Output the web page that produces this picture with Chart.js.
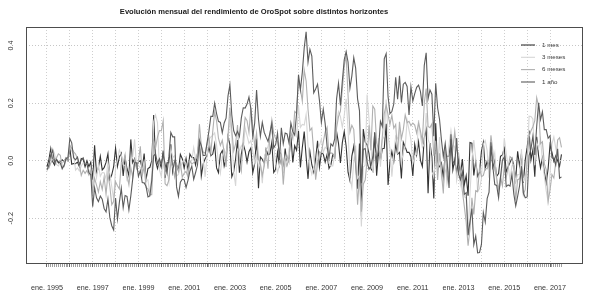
<!DOCTYPE html>
<html>
<head>
<meta charset="utf-8">
<script src="https://cdn.jsdelivr.net/npm/chart.js@4.4.0/dist/chart.umd.min.js"></script>
<style>
  html, body { margin: 0; padding: 0; background: #fff; }
  #wrap { position: relative; width: 589px; height: 297px; }
</style>
</head>
<body>
<div id="wrap"><canvas id="grafico"></canvas></div>
<script>
const titulo = "Evolución mensual del rendimiento de OroSpot sobre distintos horizontes";

// etiquetas del eje x: una cada 24 meses desde ene. 1995
const etiquetasX = ["ene. 1995", "ene. 1997", "ene. 1999", "ene. 2001", "ene. 2003", "ene. 2005",
  "ene. 2007", "ene. 2009", "ene. 2011", "ene. 2013", "ene. 2015", "ene. 2017"];
const ticksY = [-0.2, 0.0, 0.2, 0.4];
const etiquetasY = ["-0.2", "0.0", "0.2", "0.4"];
const nombres = ["1 mes", "3 meses", "6 meses", "1 año"];

// rendimientos mensuales, ene. 1995 - jul. 2017
const rend1m = [
  -0.021, 0.003, 0.042, -0.003, -0.015, 0.005, -0.008, -0.003, 0.003, -0.003, 0.010, 0.000,
  0.045, -0.012, -0.010, -0.010, -0.005, -0.021, 0.008, 0.005, -0.021, 0.000, -0.021, -0.005,
  -0.067, 0.054, -0.045, -0.023, 0.015, -0.032, -0.024, -0.006, 0.024, -0.065, -0.049, -0.021,
  0.044, -0.020, 0.013, 0.026, -0.053, 0.010, -0.027, -0.053, 0.074, -0.007, 0.007, -0.021,
  -0.004, 0.000, -0.028, 0.025, -0.065, -0.027, -0.023, 0.000, 0.159, 0.000, -0.027, -0.003,
  -0.024, 0.035, -0.060, -0.007, -0.007, 0.057, -0.039, 0.000, -0.015, -0.034, 0.022, 0.007,
  -0.026, 0.008, -0.034, 0.023, 0.011, 0.011, -0.015, 0.026, 0.071, -0.053, -0.011, 0.007,
  0.018, 0.049, 0.017, 0.023, 0.057, -0.025, -0.042, 0.023, 0.035, -0.019, 0.006, 0.084,
  0.056, -0.056, -0.038, 0.006, 0.072, -0.042, 0.023, 0.058, 0.034, -0.005, 0.031, 0.044,
  -0.042, -0.010, 0.078, -0.096, 0.013, 0.005, -0.010, 0.040, 0.020, 0.024, 0.064, -0.041,
  -0.030, 0.030, -0.016, 0.016, -0.042, 0.042, -0.014, 0.009, 0.088, -0.006, 0.052, 0.036,
  0.104, -0.023, 0.046, 0.101, 0.014, -0.063, 0.031, -0.014, -0.039, 0.007, 0.069, -0.022,
  0.028, 0.023, -0.005, 0.022, -0.027, -0.014, 0.023, 0.011, 0.100, 0.060, -0.008, 0.063,
  0.101, 0.051, -0.040, -0.069, 0.016, 0.050, -0.013, -0.097, 0.060, -0.191, 0.110, 0.065,
  0.055, 0.025, -0.028, -0.037, 0.099, -0.052, 0.031, 0.000, 0.042, 0.043, 0.128, -0.084,
  -0.004, 0.032, -0.003, 0.057, 0.023, 0.029, -0.062, 0.064, 0.048, 0.029, 0.029, 0.014,
  -0.053, 0.057, 0.020, 0.065, 0.001, -0.020, 0.079, 0.108, -0.113, 0.061, 0.014, -0.131,
  0.130, -0.028, -0.020, -0.007, -0.058, 0.025, 0.015, 0.016, 0.075, -0.032, 0.004, -0.041,
  0.004, -0.047, 0.006, -0.084, -0.052, -0.122, 0.063, 0.061, -0.051, -0.002, -0.055, -0.040,
  0.033, 0.064, -0.027, -0.002, -0.030, 0.051, -0.023, 0.000, -0.054, -0.045, 0.015, 0.020,
  0.044, -0.039, -0.021, -0.006, 0.009, -0.017, -0.064, 0.033, -0.018, 0.024, -0.077, 0.003,
  0.047, 0.105, 0.003, 0.038, -0.056, 0.083, 0.017, -0.025, 0.010, -0.039, -0.077, -0.028,
  0.056, 0.029, -0.002, 0.017, 0.000, -0.019, 0.022
];
const rend3m = [
  -0.037, -0.021, 0.023, 0.042, 0.024, -0.013, -0.018, -0.005, -0.008, -0.003, 0.010, 0.008,
  0.056, 0.033, 0.023, -0.033, -0.025, -0.036, -0.018, -0.008, -0.008, -0.016, -0.042, -0.027,
  -0.094, -0.019, -0.059, -0.015, -0.054, -0.041, -0.042, -0.063, -0.006, -0.047, -0.090, -0.135,
  -0.026, 0.003, 0.037, 0.020, -0.014, -0.017, -0.070, -0.071, -0.007, 0.014, 0.074, -0.021,
  -0.017, -0.024, -0.032, -0.004, -0.068, -0.067, -0.115, -0.050, 0.136, 0.159, 0.132, -0.031,
  -0.055, 0.007, -0.049, -0.032, -0.074, 0.043, 0.011, 0.018, -0.053, -0.048, -0.026, -0.004,
  0.004, -0.011, -0.053, -0.004, 0.000, 0.046, 0.007, 0.022, 0.082, 0.044, 0.007, -0.056,
  0.014, 0.074, 0.083, 0.088, 0.097, 0.055, -0.010, -0.044, 0.016, 0.039, 0.022, 0.072,
  0.146, 0.084, -0.038, -0.088, 0.040, 0.035, 0.052, 0.038, 0.115, 0.087, 0.060, 0.070,
  0.033, -0.008, 0.026, -0.028, -0.005, -0.078, 0.008, 0.035, 0.049, 0.083, 0.107, 0.047,
  -0.007, -0.041, -0.016, 0.030, -0.042, 0.016, -0.014, 0.038, 0.084, 0.091, 0.134, 0.081,
  0.191, 0.116, 0.126, 0.124, 0.161, 0.052, -0.019, -0.047, -0.023, -0.047, 0.036, 0.054,
  0.075, 0.029, 0.047, 0.041, -0.009, -0.018, -0.018, 0.020, 0.134, 0.171, 0.153, 0.116,
  0.157, 0.215, 0.112, -0.058, -0.093, -0.003, 0.053, -0.061, -0.051, -0.229, -0.022, -0.016,
  0.230, 0.145, 0.052, -0.040, 0.035, 0.011, 0.079, -0.021, 0.073, 0.085, 0.213, 0.087,
  0.041, -0.056, 0.025, 0.086, 0.077, 0.110, -0.009, 0.031, 0.049, 0.141, 0.106, 0.073,
  -0.010, 0.018, 0.023, 0.141, 0.085, 0.045, 0.059, 0.166, 0.074, 0.056, -0.038, -0.057,
  0.013, -0.029, 0.082, -0.055, -0.085, -0.039, -0.018, 0.056, 0.106, 0.059, 0.046, -0.069,
  -0.033, -0.083, -0.036, -0.125, -0.130, -0.259, -0.112, 0.001, 0.072, 0.008, -0.108, -0.097,
  -0.062, 0.057, 0.070, 0.035, -0.059, 0.018, -0.002, 0.028, -0.077, -0.099, -0.084, -0.009,
  0.079, 0.025, -0.016, -0.066, -0.018, -0.014, -0.072, -0.048, -0.049, 0.039, -0.071, -0.051,
  -0.028, 0.155, 0.154, 0.145, -0.016, 0.065, 0.043, 0.075, 0.002, -0.054, -0.105, -0.143,
  -0.048, 0.058, 0.083, 0.044, 0.014, -0.002, 0.002
];
const rend6m = [
  -0.026, -0.026, -0.008, 0.005, 0.003, 0.010, 0.024, 0.019, -0.021, -0.021, 0.005, 0.000,
  0.053, 0.043, 0.031, 0.023, 0.008, -0.013, -0.051, -0.033, -0.044, -0.034, -0.050, -0.035,
  -0.110, -0.061, -0.085, -0.109, -0.073, -0.100, -0.057, -0.116, -0.047, -0.089, -0.153, -0.141,
  -0.073, -0.087, -0.098, -0.006, -0.010, 0.021, -0.051, -0.084, -0.024, -0.057, 0.003, -0.027,
  -0.004, 0.050, -0.052, -0.021, -0.093, -0.098, -0.118, -0.118, 0.069, 0.045, 0.082, 0.105,
  0.104, 0.139, -0.080, -0.087, -0.067, -0.007, -0.021, -0.056, -0.011, -0.037, -0.007, -0.057,
  -0.044, -0.037, -0.057, 0.000, -0.011, -0.007, 0.004, 0.022, 0.127, 0.052, 0.030, 0.026,
  0.058, 0.081, 0.027, 0.102, 0.170, 0.138, 0.078, 0.053, 0.071, 0.029, -0.022, 0.087,
  0.185, 0.106, 0.034, 0.058, 0.124, -0.003, -0.036, 0.078, 0.150, 0.139, 0.098, 0.184,
  0.120, 0.052, 0.096, 0.005, -0.013, -0.052, -0.020, 0.030, -0.028, 0.091, 0.142, 0.096,
  0.076, 0.067, 0.031, 0.023, -0.083, 0.000, 0.016, -0.005, 0.100, 0.077, 0.171, 0.165,
  0.283, 0.250, 0.207, 0.315, 0.277, 0.178, 0.105, 0.114, 0.029, -0.066, -0.011, 0.031,
  0.028, 0.065, 0.100, 0.116, 0.020, 0.028, 0.023, 0.011, 0.115, 0.153, 0.172, 0.249,
  0.328, 0.368, 0.228, 0.099, 0.123, 0.109, -0.005, -0.153, -0.054, -0.177, -0.082, -0.067,
  0.001, 0.123, 0.036, 0.190, 0.179, 0.062, 0.039, 0.014, 0.084, 0.164, 0.193, 0.160,
  0.126, 0.158, 0.113, 0.126, 0.022, 0.135, 0.076, 0.108, 0.159, 0.132, 0.137, 0.122,
  0.131, 0.124, 0.096, 0.131, 0.103, 0.068, 0.200, 0.251, 0.119, 0.115, 0.128, 0.017,
  0.069, -0.067, 0.026, -0.042, -0.114, 0.043, -0.073, -0.029, 0.066, 0.041, 0.102, 0.036,
  0.026, -0.037, -0.106, -0.158, -0.214, -0.295, -0.236, -0.129, -0.187, -0.104, -0.107, -0.025,
  -0.055, -0.051, -0.027, -0.028, -0.002, 0.088, 0.032, -0.031, -0.059, -0.101, -0.056, -0.087,
  -0.020, -0.058, -0.025, 0.014, 0.008, -0.030, -0.138, -0.066, -0.063, -0.033, -0.119, -0.100,
  0.012, 0.084, 0.104, 0.118, 0.139, 0.219, 0.189, 0.059, 0.066, -0.010, -0.031, -0.141,
  -0.102, -0.048, -0.060, -0.005, 0.072, 0.080, 0.046
];
const rend12m = [
  -0.032, -0.016, 0.021, 0.036, -0.005, 0.003, -0.003, -0.008, -0.028, -0.016, 0.008, 0.010,
  0.077, 0.062, 0.010, 0.003, 0.013, -0.013, 0.003, 0.010, -0.013, -0.011, -0.042, -0.048,
  -0.160, -0.094, -0.129, -0.142, -0.123, -0.134, -0.166, -0.178, -0.133, -0.198, -0.226, -0.241,
  -0.130, -0.203, -0.145, -0.096, -0.163, -0.121, -0.124, -0.171, -0.122, -0.063, -0.007, -0.007,
  -0.054, -0.034, -0.076, -0.077, -0.089, -0.126, -0.122, -0.068, 0.017, 0.024, -0.010, 0.007,
  -0.014, 0.021, -0.011, -0.043, 0.015, 0.098, 0.083, 0.083, -0.091, -0.124, -0.075, -0.064,
  -0.066, -0.093, -0.068, -0.037, -0.019, -0.065, -0.041, -0.015, 0.071, 0.052, 0.018, 0.018,
  0.062, 0.103, 0.154, 0.154, 0.200, 0.164, 0.137, 0.133, 0.097, 0.131, 0.148, 0.225,
  0.263, 0.159, 0.104, 0.087, 0.102, 0.084, 0.149, 0.184, 0.183, 0.197, 0.221, 0.181,
  0.084, 0.130, 0.246, 0.144, 0.085, 0.133, 0.099, 0.082, 0.067, 0.096, 0.129, 0.045,
  0.056, 0.096, 0.002, 0.114, 0.059, 0.096, 0.093, 0.062, 0.131, 0.101, 0.089, 0.165,
  0.299, 0.246, 0.307, 0.392, 0.448, 0.343, 0.387, 0.364, 0.236, 0.249, 0.266, 0.209,
  0.133, 0.179, 0.129, 0.050, 0.009, 0.059, 0.051, 0.076, 0.216, 0.269, 0.192, 0.277,
  0.351, 0.379, 0.343, 0.252, 0.295, 0.358, 0.322, 0.215, 0.174, -0.078, 0.040, 0.042,
  -0.004, -0.030, -0.018, 0.014, 0.097, -0.004, 0.040, 0.137, 0.119, 0.354, 0.372, 0.223,
  0.164, 0.171, 0.197, 0.290, 0.214, 0.295, 0.202, 0.266, 0.272, 0.258, 0.159, 0.257,
  0.208, 0.233, 0.255, 0.263, 0.240, 0.190, 0.331, 0.375, 0.215, 0.246, 0.231, 0.085,
  0.269, 0.184, 0.144, 0.073, 0.014, 0.060, -0.004, -0.095, 0.092, -0.001, -0.012, 0.079,
  -0.047, -0.066, -0.039, -0.117, -0.111, -0.259, -0.211, -0.166, -0.292, -0.262, -0.320, -0.319,
  -0.291, -0.180, -0.213, -0.132, -0.109, 0.064, -0.022, -0.083, -0.086, -0.129, -0.058, 0.002,
  0.013, -0.090, -0.084, -0.088, -0.048, -0.116, -0.157, -0.124, -0.088, -0.019, -0.112, -0.129,
  -0.126, 0.018, 0.041, 0.085, 0.020, 0.120, 0.201, 0.143, 0.170, 0.108, 0.108, 0.078,
  0.087, 0.011, 0.006, -0.015, 0.041, -0.061, -0.056
];

const colores = ["#333333", "#d6d6d6", "#b0b0b0", "#5c5c5c"];
const valores = [rend1m, rend3m, rend6m, rend12m];

const aPuntos = (arr) => arr.map((v, i) => ({ x: i, y: v }));

// marco, titulo, etiquetas del eje y y leyenda (estilo R)
const extrasR = {
  id: "extrasR",
  afterDraw(chart) {
    const { ctx, chartArea: a, scales } = chart;
    ctx.save();

    ctx.strokeStyle = "#4d4d4d";
    ctx.lineWidth = 1;
    ctx.strokeRect(Math.round(a.left) + 0.5, Math.round(a.top) + 0.5,
      Math.round(a.right - a.left) - 1, Math.round(a.bottom - a.top) - 1);

    ctx.fillStyle = "#1a1a1a";
    ctx.font = 'bold 7.6px "Liberation Sans", Arial, sans-serif';
    ctx.textAlign = "center";
    ctx.textBaseline = "middle";
    ctx.fillText(titulo, 254, 12);

    ctx.fillStyle = "#333";
    ctx.font = '7.2px "Liberation Sans", Arial, sans-serif';
    ticksY.forEach((v, i) => {
      const y = scales.y.getPixelForValue(v);
      ctx.save();
      ctx.translate(11.5, y);
      ctx.rotate(-Math.PI / 2);
      ctx.fillText(etiquetasY[i], 0, 0);
      ctx.restore();
    });

    ctx.font = '6.2px "Liberation Sans", Arial, sans-serif';
    ctx.textAlign = "left";
    const filas = [45, 57.3, 69.6, 82];
    nombres.forEach((n, i) => {
      ctx.strokeStyle = colores[i];
      ctx.lineWidth = 1.1;
      ctx.beginPath();
      ctx.moveTo(521, filas[i]);
      ctx.lineTo(535, filas[i]);
      ctx.stroke();
      ctx.fillStyle = "#333";
      ctx.fillText(n, 542, filas[i]);
    });
    ctx.restore();
  }
};

new Chart(document.getElementById("grafico"), {
  type: "line",
  data: {
    datasets: nombres.map((n, i) => ({
      label: n,
      data: aPuntos(valores[i]),
      borderColor: colores[i],
      borderWidth: 1.1,
      pointRadius: 0,
      tension: 0,
      fill: false,
      order: 4 - i,
    })),
  },
  options: {
    responsive: true,
    maintainAspectRatio: false,
    animation: false,
    events: [],
    layout: { padding: { top: 27, right: 6, left: 0, bottom: 0 } },
    plugins: {
      legend: { display: false },
      title: { display: false },
      tooltip: { enabled: false },
    },
    scales: {
      x: {
        type: "linear",
        min: -11.0,
        max: 281.3,
        afterBuildTicks: (scale) => {
          const t = [];
          for (let m = 0; m < rend1m.length; m++) t.push({ value: m });
          scale.ticks = t;
        },
        afterFit: (scale) => { scale.height = 33; },
        border: { display: false, dash: [1, 2] },
        grid: {
          drawOnChartArea: true,
          color: (c) => (c.tick && c.tick.value % 12 === 0 ? "#cfcfcf" : "rgba(0,0,0,0)"),
          tickColor: (c) => (c.tick && c.tick.value % 12 === 0 ? "#666" : "#a0a0a0"),
          tickBorderDash: [],
          tickLength: 3,
          lineWidth: 1,
        },
        ticks: {
          autoSkip: false,
          maxRotation: 0,
          minRotation: 0,
          padding: 17,
          color: "#333",
          font: { family: '"Liberation Sans", Arial, sans-serif', size: 7.2 },
          callback: (v) => (v % 24 === 0 ? etiquetasX[v / 24] : ""),
        },
      },
      y: {
        min: -0.359,
        max: 0.4647,
        afterBuildTicks: (scale) => { scale.ticks = ticksY.map((v) => ({ value: v })); },
        afterFit: (scale) => { scale.width = 26; },
        border: { display: false, dash: [1, 2] },
        grid: { color: "#c6c6c6", drawTicks: false, lineWidth: 1 },
        ticks: { display: false },
      },
    },
  },
  plugins: [extrasR],
});
</script>
</body>
</html>
